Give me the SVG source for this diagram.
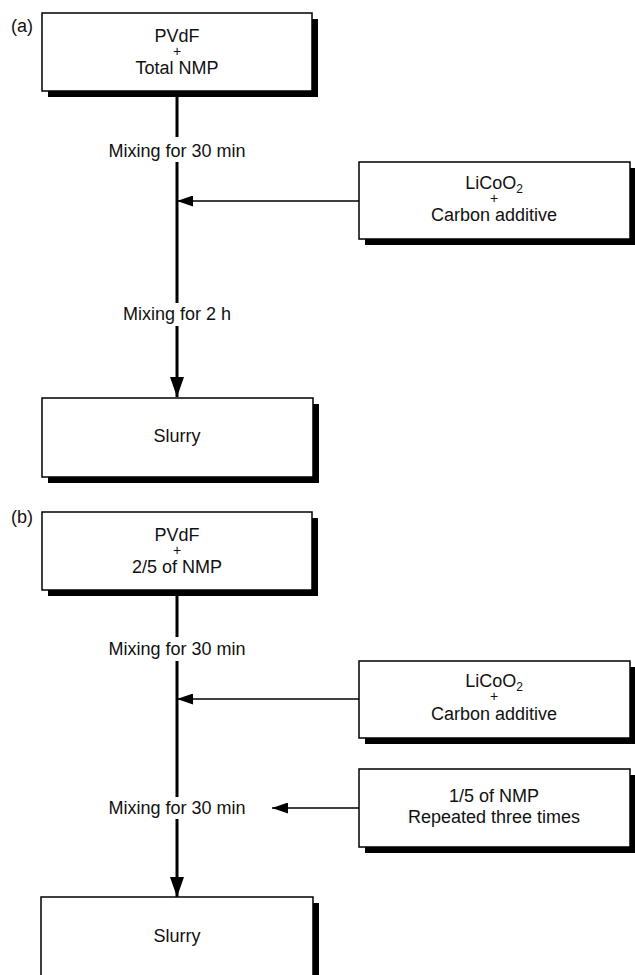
<svg xmlns="http://www.w3.org/2000/svg" width="635" height="975" viewBox="0 0 635 975">
<style>
text{font-family:"Liberation Sans",Arial,sans-serif;fill:#111;text-anchor:middle}
.t{font-size:18px}
.p{font-size:14px}
.lbl{font-size:18px;text-anchor:start}
.sh{fill:#000}
.bx{fill:#fff;stroke:#000;stroke-width:1.5}
.v{stroke:#000;stroke-width:3;fill:none}
.h{stroke:#000;stroke-width:1.5;fill:none}
</style>
<defs>
<marker id="ad" markerUnits="userSpaceOnUse" markerWidth="21" markerHeight="14" refX="20" refY="7" orient="auto" viewBox="0 0 21 14">
<path d="M0,0 L20,7 L0,14 Z" fill="#000"/>
</marker>
<marker id="al" markerUnits="userSpaceOnUse" markerWidth="16" markerHeight="11" refX="16" refY="5.5" orient="auto" viewBox="0 0 16 11">
<path d="M0,0 L16,5.5 L0,11 Z" fill="#000"/>
</marker>
</defs>
<text class="lbl" x="11" y="32">(a)</text>
<text class="lbl" x="11" y="523">(b)</text>
<g id="conn">
<path class="v" d="M177,91 V137 M177,162 V303"/>
<path class="v" d="M177,326 V397" marker-end="url(#ad)"/>
<path class="h" d="M359,201 H177" marker-end="url(#al)"/>
<path class="v" d="M177,590 V637 M177,661 V797"/>
<path class="v" d="M177,819 V897" marker-end="url(#ad)"/>
<path class="h" d="M359,699 H177" marker-end="url(#al)"/>
<path class="h" d="M359,808 H272" marker-end="url(#al)"/>
</g>
<g id="a-pvdf">
<rect class="sh" x="48" y="19" width="270" height="78"/>
<rect class="bx" x="42" y="13" width="270" height="78"/>
<text class="t" x="177" y="42">PVdF</text>
<text class="p" x="177" y="56">+</text>
<text class="t" x="177" y="74">Total NMP</text>
</g>
<g id="a-mix1"><text class="t" x="177" y="157">Mixing for 30 min</text></g>
<g id="a-licoo2">
<rect class="sh" x="365" y="168" width="271" height="77"/>
<rect class="bx" x="359" y="162" width="271" height="77"/>
<text class="t" x="494" y="189">LiCoO<tspan font-size="12" dy="4">2</tspan></text>
<text class="p" x="494" y="203">+</text>
<text class="t" x="494" y="221">Carbon additive</text>
</g>
<g id="a-mix2"><text class="t" x="177" y="320">Mixing for 2 h</text></g>
<g id="a-slurry">
<rect class="sh" x="48" y="404" width="271" height="79"/>
<rect class="bx" x="42" y="398" width="271" height="79"/>
<text class="t" x="177" y="442">Slurry</text>
</g>
<g id="b-pvdf">
<rect class="sh" x="48" y="518" width="270" height="78"/>
<rect class="bx" x="42" y="512" width="270" height="78"/>
<text class="t" x="177" y="541">PVdF</text>
<text class="p" x="177" y="555">+</text>
<text class="t" x="177" y="573">2/5 of NMP</text>
</g>
<g id="b-mix1"><text class="t" x="177" y="655">Mixing for 30 min</text></g>
<g id="b-licoo2">
<rect class="sh" x="365" y="667" width="271" height="77"/>
<rect class="bx" x="359" y="661" width="271" height="77"/>
<text class="t" x="494" y="687">LiCoO<tspan font-size="12" dy="4">2</tspan></text>
<text class="p" x="494" y="701">+</text>
<text class="t" x="494" y="720">Carbon additive</text>
</g>
<g id="b-mix2"><text class="t" x="177" y="814">Mixing for 30 min</text></g>
<g id="b-nmp">
<rect class="sh" x="365" y="775" width="271" height="78"/>
<rect class="bx" x="359" y="769" width="271" height="78"/>
<text class="t" x="494" y="802">1/5 of NMP</text>
<text class="t" x="494" y="823">Repeated three times</text>
</g>
<g id="b-slurry">
<rect class="sh" x="47" y="903" width="272" height="90"/>
<rect class="bx" x="41" y="897" width="272" height="90"/>
<text class="t" x="177" y="942">Slurry</text>
</g>
</svg>
